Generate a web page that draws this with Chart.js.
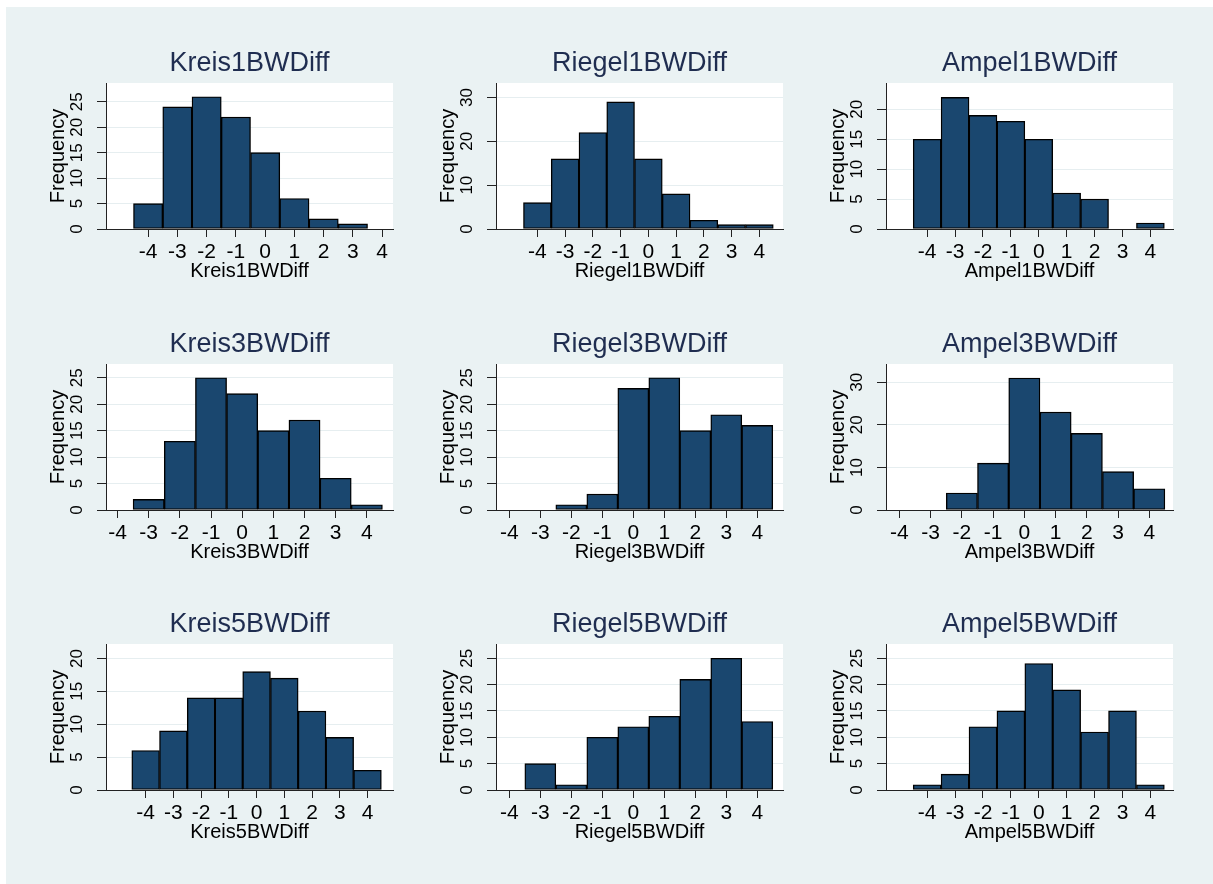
<!DOCTYPE html>
<html>
<head>
<meta charset="utf-8">
<script src="https://cdn.jsdelivr.net/npm/chart.js@4"></script>
<style>
  html, body { margin: 0; padding: 0; background: #fff; }
  #page { position: relative; width: 1213px; height: 884px; overflow: hidden; }
  #bg { position: absolute; left: 6px; top: 7px; right: 0; bottom: 0; background: #eaf2f3; }
  canvas { position: absolute; }
</style>
</head>
<body>
<div id="page"><div id="bg"></div></div>
<script>
// histogram bins (bin centres) and the x tick labels
const bins = [-4, -3, -2, -1, 0, 1, 2, 3, 4]
const xTicks = [-4, -3, -2, -1, 0, 1, 2, 3, 4]

const names = [
    'Kreis1BWDiff', 'Riegel1BWDiff', 'Ampel1BWDiff',
    'Kreis3BWDiff', 'Riegel3BWDiff', 'Ampel3BWDiff',
    'Kreis5BWDiff', 'Riegel5BWDiff', 'Ampel5BWDiff',
]

// frequencies per bin, 0 = empty bin
const kreis1 = [5, 24, 26, 22, 15, 6, 2, 1, 0]
const riegel1 = [6, 16, 22, 29, 16, 8, 2, 1, 1]
const ampel1 = [15, 22, 19, 18, 15, 6, 5, 0, 1]
const kreis3 = [0, 2, 13, 25, 22, 15, 17, 6, 1]
const riegel3 = [0, 0, 1, 3, 23, 25, 15, 18, 16]
const ampel3 = [0, 0, 4, 11, 31, 23, 18, 9, 5]
const kreis5 = [6, 9, 14, 14, 18, 17, 12, 8, 3]
const riegel5 = [0, 5, 1, 10, 12, 14, 21, 25, 13]
const ampel5 = [1, 3, 12, 15, 24, 19, 11, 15, 1]

const series = [kreis1, riegel1, ampel1, kreis3, riegel3, ampel3, kreis5, riegel5, ampel5]

// y tick labels per panel
const yTicks = [
    [0, 5, 10, 15, 20, 25], [0, 10, 20, 30], [0, 5, 10, 15, 20],
    [0, 5, 10, 15, 20, 25], [0, 5, 10, 15, 20, 25], [0, 10, 20, 30],
    [0, 5, 10, 15, 20], [0, 5, 10, 15, 20, 25], [0, 5, 10, 15, 20, 25],
]

// axis limits
const yMax = [28.7, 33.3, 24.4, 27.6, 27.6, 34.3, 22.2, 27.7, 27.7]
const xMin = [-5.44, -5.49, -5.475, -4.37, -4.43, -4.43, -5.43, -4.43, -5.475]
const xMax = [4.37, 4.85, 4.81, 4.84, 4.83, 4.76, 4.92, 4.83, 4.81]

Chart.defaults.font.family = '"Liberation Sans", Arial, sans-serif'

const plotBg = {
    id: 'plotBg',
    beforeDraw(chart) {
        const { ctx, chartArea: a } = chart
        ctx.save()
        ctx.fillStyle = '#ffffff'
        ctx.fillRect(a.left, a.top, a.right - a.left, a.bottom - a.top)
        ctx.restore()
    },
}

const page = document.getElementById('page')

series.forEach((vals, i) => {
    const col = i % 3
    const row = Math.floor(i / 3)

    const canvas = document.createElement('canvas')
    canvas.width = 390
    canvas.height = 280
    canvas.style.left = (10 + 390 * col) + 'px'
    canvas.style.top = [25, 306, 586][row] + 'px'
    page.append(canvas)

    new Chart(canvas, {
        type: 'bar',
        data: {
            datasets: [{
                data: bins.map((b, k) => ({ x: b, y: vals[k] > 0 ? vals[k] : null })),
                backgroundColor: '#1a476f',
                borderColor: '#000000',
                borderWidth: 1.4,
                borderSkipped: false,
                barPercentage: 1,
                categoryPercentage: 1,
            }],
        },
        options: {
            animation: false,
            responsive: false,
            devicePixelRatio: 1,
            layout: { padding: { top: 1, right: 7, bottom: 0, left: 0 } },
            plugins: {
                legend: { display: false },
                tooltip: { enabled: false },
                title: {
                    display: true,
                    text: names[i],
                    fullSize: false,
                    color: '#1f2d50',
                    font: { size: 27, weight: 'normal', lineHeight: 1 },
                    padding: { top: 24, bottom: 6 },
                },
            },
            scales: {
                x: {
                    type: 'linear',
                    offset: false,
                    min: xMin[i],
                    max: xMax[i],
                    afterBuildTicks(scale) {
                        scale.ticks = xTicks.map((v) => ({ value: v }))
                    },
                    afterFit(scale) {
                        scale.height = 76
                    },
                    grid: { offset: false, drawOnChartArea: false, tickLength: 8, tickColor: '#222222' },
                    border: { color: '#222222', width: 1 },
                    ticks: { color: '#000000', font: { size: 21 }, padding: 3, maxRotation: 0, autoSkip: false },
                    title: {
                        display: true,
                        text: names[i],
                        color: '#000000',
                        font: { size: 20 },
                        padding: { top: 0, bottom: 22 },
                    },
                },
                y: {
                    min: 0,
                    max: yMax[i],
                    afterBuildTicks(scale) {
                        scale.ticks = yTicks[i].map((v) => ({ value: v }))
                    },
                    afterFit(scale) {
                        scale.width = 96
                    },
                    grid: { color: '#e6eef0', tickLength: 9, tickColor: '#222222' },
                    border: { color: '#222222', width: 1 },
                    ticks: {
                        color: '#000000',
                        font: { size: 17 },
                        minRotation: 90,
                        maxRotation: 90,
                        crossAlign: 'center',
                        padding: 10,
                        autoSkip: false,
                    },
                    title: {
                        display: true,
                        text: 'Frequency',
                        color: '#000000',
                        font: { size: 20 },
                        padding: { top: 36, bottom: 0 },
                    },
                },
            },
        },
        plugins: [plotBg],
    })
})
</script>
</body>
</html>
